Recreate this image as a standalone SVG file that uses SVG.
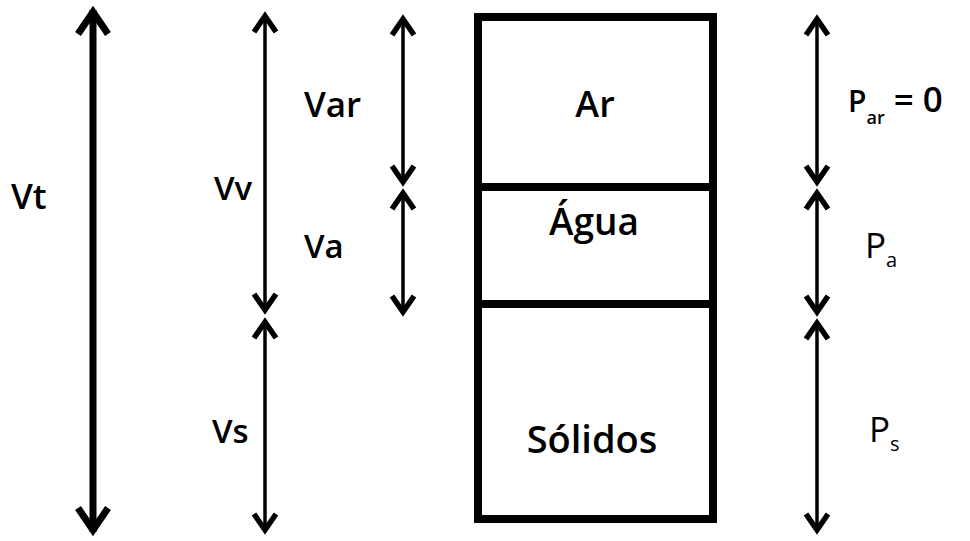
<svg xmlns="http://www.w3.org/2000/svg" width="970" height="541" viewBox="0 0 970 541">
<style>
.lbl{font-family:"Open Sans","Liberation Sans",sans-serif;font-weight:600;fill:#000}
.p{font-family:"Open Sans","Liberation Sans",sans-serif;font-weight:500;fill:#000}
.box{fill:#fff;stroke:#000;stroke-width:8}
.big{stroke:#000;stroke-width:7;fill:none}
.thin{stroke:#000;stroke-width:3.5;fill:none}
</style>
<defs>
<marker id="hb" markerUnits="userSpaceOnUse" viewBox="-30 -20 34 40" refX="0" refY="0" markerWidth="34" markerHeight="40" orient="auto-start-reverse" overflow="visible">
<path d="M-24,-15 L-2,0 L-24,15" fill="none" stroke="#000" stroke-width="7" stroke-linejoin="miter"/>
</marker>
<marker id="hs" markerUnits="userSpaceOnUse" viewBox="-30 -20 34 40" refX="0" refY="0" markerWidth="34" markerHeight="40" orient="auto-start-reverse" overflow="visible">
<path d="M-18,-11 L-2,0 L-18,11" fill="none" stroke="#000" stroke-width="5.5" stroke-linejoin="miter"/>
</marker>
</defs>
<g id="soil-box">
<rect class="box" x="478" y="17" width="235" height="502"/>
<line x1="478" y1="187" x2="713" y2="187" stroke="#000" stroke-width="8"/>
<line x1="478" y1="304" x2="713" y2="304" stroke="#000" stroke-width="8"/>
</g>
<g id="ar"><text class="lbl" x="595" y="117" font-size="36" text-anchor="middle">Ar</text></g>
<g id="agua"><text class="lbl" x="594" y="235" font-size="37" text-anchor="middle">Água</text></g>
<g id="solidos"><text class="lbl" x="592" y="453" font-size="38" text-anchor="middle">Sólidos</text></g>
<g id="connectors">
<line class="big" x1="93" y1="10" x2="93" y2="532" marker-start="url(#hb)" marker-end="url(#hb)"/>
<line class="thin" x1="265" y1="14" x2="265" y2="312" marker-start="url(#hs)" marker-end="url(#hs)"/>
<line class="thin" x1="265" y1="320" x2="265" y2="532" marker-start="url(#hs)" marker-end="url(#hs)"/>
<line class="thin" x1="403" y1="17" x2="403" y2="184" marker-start="url(#hs)" marker-end="url(#hs)"/>
<line class="thin" x1="403" y1="191" x2="403" y2="314" marker-start="url(#hs)" marker-end="url(#hs)"/>
<line class="thin" x1="817" y1="17" x2="817" y2="184" marker-start="url(#hs)" marker-end="url(#hs)"/>
<line class="thin" x1="817" y1="191" x2="817" y2="314" marker-start="url(#hs)" marker-end="url(#hs)"/>
<line class="thin" x1="817" y1="321" x2="817" y2="532" marker-start="url(#hs)" marker-end="url(#hs)"/>
</g>
<g id="vt"><text class="lbl" x="11" y="209" font-size="35">Vt</text></g>
<g id="vv"><text class="lbl" x="214" y="200" font-size="33">Vv</text></g>
<g id="var"><text class="lbl" x="304" y="117" font-size="35">Var</text></g>
<g id="va"><text class="lbl" x="304" y="258" font-size="33">Va</text></g>
<g id="vs"><text class="lbl" x="212" y="443" font-size="33">Vs</text></g>
<g id="par"><text class="lbl" x="848" y="112" font-size="30">P<tspan font-size="18" dy="12">ar</tspan><tspan dy="-12" font-size="35"> = 0</tspan></text></g>
<g id="pa"><text class="p" x="865" y="258" font-size="35">P<tspan font-size="20" dy="9">a</tspan></text></g>
<g id="ps"><text class="p" x="869" y="442" font-size="35">P<tspan font-size="20" dy="9">s</tspan></text></g>
</svg>
